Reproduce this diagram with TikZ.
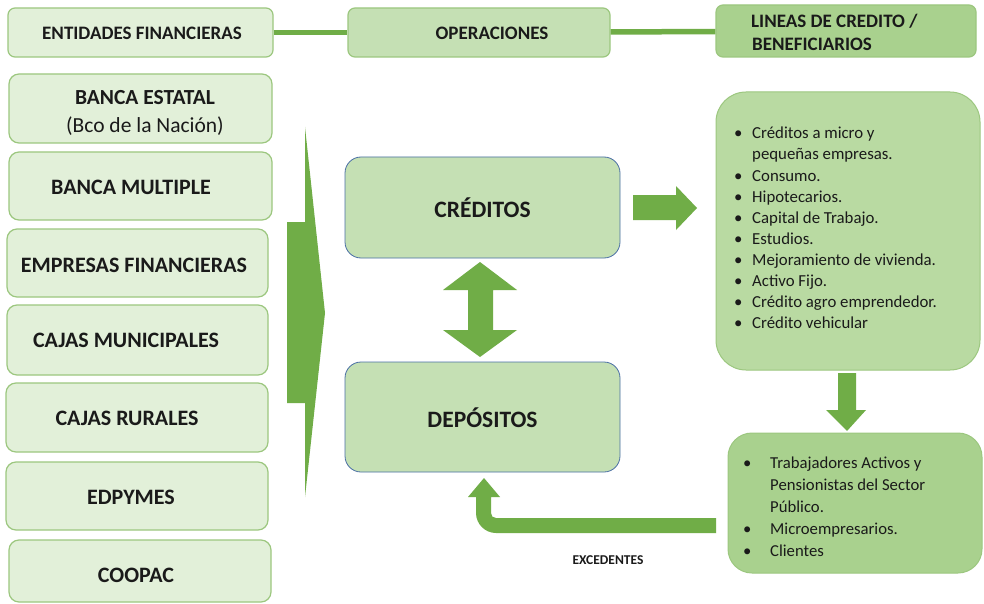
\documentclass[tikz,border=0pt]{standalone}
\usepackage{fontspec}
\setmainfont{Carlito}
\definecolor{gLight}{HTML}{E2F0D9}
\definecolor{gMid}{HTML}{C5E0B4}
\definecolor{gList}{HTML}{B9DAA2}
\definecolor{gDark}{HTML}{A9D18E}
\definecolor{gArrow}{HTML}{70AD47}
\definecolor{gEdge}{HTML}{9CC77F}
\definecolor{bEdge}{HTML}{4A6FA5}
\definecolor{txt}{HTML}{1A1A1A}
\tikzset{
  lbox/.style={draw=gEdge, line width=1.2pt, fill=gLight, rounded corners=10pt, inner sep=0pt},
  tbox/.style={draw=gEdge, line width=1.2pt, rounded corners=7pt, inner sep=0pt},
  obox/.style={draw=bEdge, line width=0.8pt, fill=gMid, rounded corners=16pt, inner sep=0pt},
  ltext/.style={text=txt, font=\fontsize{22}{26}\selectfont\bfseries, inner sep=0pt},
  ttext/.style={text=txt, font=\fontsize{19}{23}\selectfont\bfseries, inner sep=0pt},
  blk/.style={fill=gArrow},
  conn/.style={draw=gArrow, line width=5.5pt},
}
\newcommand{\bul}{\makebox[18pt][l]{\textbullet}}
\newcommand{\bulb}{\makebox[27pt][l]{\textbullet}}
\begin{document}
\begin{tikzpicture}[x=1pt,y=-1pt]
\useasboundingbox[fill=white] (0,0) rectangle (984,604);
% header
\node[tbox, fill=gLight, minimum width=265, minimum height=49] (ent) at (140.5,32.5) {};
\node[ttext] at (142,33) {ENTIDADES FINANCIERAS};
\node[tbox, fill=gMid, minimum width=262, minimum height=49] (ope) at (479,32.5) {};
\node[ttext] at (492,33) {OPERACIONES};
\node[tbox, fill=gDark, minimum width=260, minimum height=52] (lin) at (846,31) {};
\node[ttext, align=left, anchor=west] at (751,32) {LINEAS DE CREDITO /\\\hspace*{1pt}BENEFICIARIOS};
\draw[conn] (ent) -- (ope);
\draw[conn] (ope) -- (lin);
% left column
\node[lbox, minimum width=263, minimum height=69] (b1) at (140.5,108.5) {};
\node[ltext, align=center, font=\fontsize{21.5}{28}\selectfont] at (145,113) {\textbf{BANCA ESTATAL}\\(Bco de la Nación)};
\node[lbox, minimum width=263, minimum height=68] (b2) at (140.5,186) {};
\node[ltext] at (131,187) {BANCA MULTIPLE};
\node[lbox, minimum width=261, minimum height=68] (b3) at (137.5,263) {};
\node[ltext] at (134,265) {EMPRESAS FINANCIERAS};
\node[lbox, minimum width=261, minimum height=70] (b4) at (137.5,340) {};
\node[ltext] at (126,340) {CAJAS MUNICIPALES};
\node[lbox, minimum width=262, minimum height=69] (b5) at (137,417.5) {};
\node[ltext] at (127,418) {CAJAS RURALES};
\node[lbox, minimum width=262, minimum height=68] (b6) at (137,496) {};
\node[ltext] at (131,497) {EDPYMES};
\node[lbox, minimum width=262, minimum height=62] (b7) at (140,571) {};
\node[ltext] at (136,575) {COOPAC};
% big chevron
\fill[blk] (287,222) -- (305,222) -- (305,127) -- (325,313) -- (305,497) -- (305,403) -- (287,403) -- cycle;
% operations
\node[obox, minimum width=275, minimum height=101] (cred) at (482.5,207.5) {};
\node[ltext, font=\fontsize{23.5}{27}\selectfont\bfseries] at (482.5,208) {CRÉDITOS};
\node[obox, minimum width=275, minimum height=110] (dep) at (482.5,417) {};
\node[ltext, font=\fontsize{23.5}{27}\selectfont\bfseries] at (482.5,418) {DEPÓSITOS};
% double arrow
\fill[blk] (480,262) -- (517,290) -- (493,290) -- (493,330) -- (517,330) -- (480,357) -- (443,330) -- (468,330) -- (468,290) -- (443,290) -- cycle;
% right arrow
\fill[blk] (633,195) -- (676,195) -- (676,186) -- (697,208) -- (676,230) -- (676,220) -- (633,220) -- cycle;
% credit lines box
\node[draw=gEdge, line width=1pt, fill=gList, rounded corners=30pt, minimum width=264, minimum height=278, inner sep=0pt] (lst) at (848,231) {};
\node[anchor=north west, align=left, text=txt, font=\fontsize{16.8}{21.1}\selectfont, inner sep=0pt] at (734,127)
{\bul Créditos a micro y\\
 \hspace*{18pt}pequeñas empresas.\\
 \bul Consumo.\\
 \bul Hipotecarios.\\
 \bul Capital de Trabajo.\\
 \bul Estudios.\\
 \bul Mejoramiento de vivienda.\\
 \bul Activo Fijo.\\
 \bul Crédito agro emprendedor.\\
 \bul Crédito vehicular};
% down arrow
\fill[blk] (838,373) -- (856,373) -- (856,410) -- (866,410) -- (847,431) -- (826,410) -- (838,410) -- cycle;
% beneficiaries box
\node[draw=gEdge, line width=1pt, fill=gDark, rounded corners=24pt, minimum width=254, minimum height=140, inner sep=0pt] (ben) at (855,503) {};
\node[anchor=north west, align=left, text=txt, font=\fontsize{16.7}{21.8}\selectfont, inner sep=0pt] at (743,457)
{\bulb Trabajadores Activos y\\
 \hspace*{27pt}Pensionistas del Sector\\
 \hspace*{27pt}Público.\\
 \bulb Microempresarios.\\
 \bulb Clientes};
% curved arrow back to deposits
\fill[blk] (716,533) -- (496,533) .. controls (485,533) and (476,524) .. (476,513) -- (476,497) -- (468,497) -- (484,478) -- (500,497) -- (491,497) -- (491,513) .. controls (491,516) and (493,518) .. (496,518) -- (716,518) -- cycle;
\node[ltext, font=\fontsize{13.5}{15}\selectfont\bfseries] (exc) at (608,560) {EXCEDENTES};
\end{tikzpicture}
\end{document}
